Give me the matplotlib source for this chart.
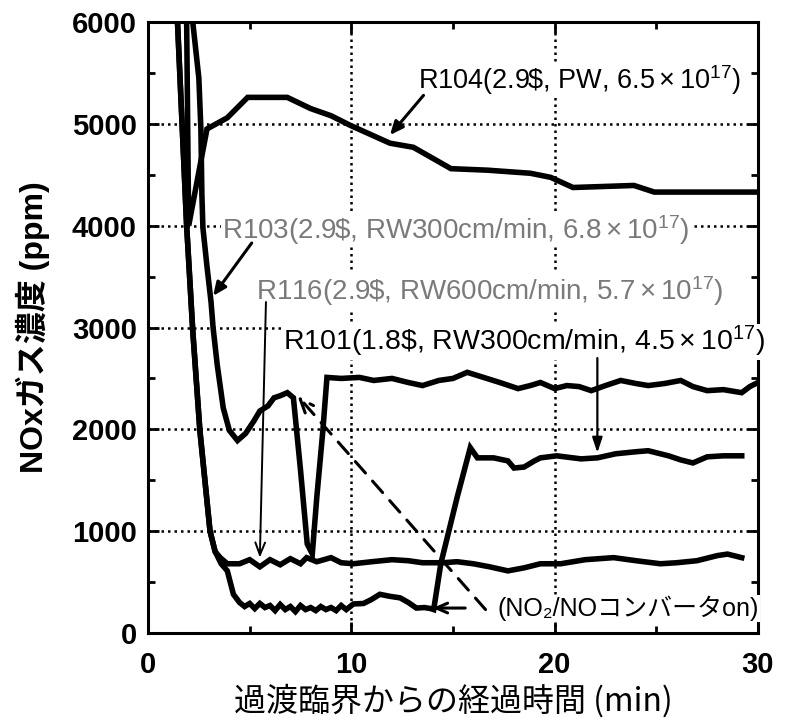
import matplotlib
matplotlib.use("Agg")
from matplotlib import pyplot as plt
from matplotlib.ticker import MultipleLocator

plt.rcParams['font.family'] = ['Liberation Sans', 'Noto Sans CJK JP', 'DejaVu Sans']
plt.rcParams['mathtext.fontset'] = 'custom'
plt.rcParams['mathtext.rm'] = 'Liberation Sans'
plt.rcParams['mathtext.it'] = 'Liberation Sans:italic'
plt.rcParams['mathtext.bf'] = 'Liberation Sans:bold'

# R104 (2.9$, PW)
r104_t = [1.9, 1.95, 2.0, 2.9, 3.9, 4.9, 6.85, 8.0, 9.0, 9.95, 11.9, 13.05,
          14.9, 16.7, 18.8, 19.8, 20.9, 23.9, 24.9, 30.0]
r104_v = [6000, 5000, 4000, 4950, 5060, 5260, 5260, 5150, 5080, 4985, 4810, 4770,
          4560, 4545, 4515, 4475, 4375, 4395, 4330, 4330]

# R103 (2.9$, RW300cm/min)
r103_t = [2.2, 2.5, 2.6, 2.65, 2.7, 2.9, 3.1, 3.2, 3.4, 3.7, 4.0, 4.4, 4.8, 5.2,
          5.5, 5.9, 6.2, 6.5, 6.85, 7.15, 7.5, 7.83, 8.08, 8.3, 8.6, 8.8, 9.5,
          10.4, 11.1, 12.0, 12.8, 13.5, 14.3, 15.0, 15.7, 16.5, 17.3, 18.2, 18.8,
          19.3, 20.0, 20.6, 21.2, 21.8, 22.5, 23.25, 24.0, 24.6, 25.4, 26.2, 26.8,
          27.5, 28.3, 29.2, 29.6, 29.9]
r103_v = [6000, 5450, 4950, 4300, 3980, 3600, 3250, 3000, 2640, 2210, 1990, 1890,
          1960, 2080, 2180, 2230, 2310, 2330, 2360, 2310, 1600, 875, 777, 1330,
          1990, 2510, 2500, 2510, 2480, 2500, 2460, 2430, 2480, 2500, 2560, 2510,
          2460, 2400, 2430, 2460, 2400, 2430, 2420, 2380, 2430, 2480, 2450, 2430,
          2450, 2480, 2420, 2380, 2390, 2360, 2420, 2450]

# R116 (2.9$, RW600cm/min)
r116_t = [1.45, 1.9, 2.2, 2.55, 3.05, 3.3, 3.55, 3.9, 4.5, 5.0, 5.5, 6.0, 6.5,
          7.0, 7.5, 7.8, 8.3, 9.0, 9.5, 10.1, 11.0, 12.0, 12.8, 13.5, 14.5, 15.2,
          16.0, 16.8, 17.7, 18.5, 19.3, 20.3, 21.5, 22.9, 24.0, 25.2, 26.0, 27.0,
          28.0, 28.5, 29.2]
r116_v = [6000, 4000, 2970, 1990, 1000, 800, 740, 680, 680, 720, 650, 720, 670,
          730, 680, 740, 700, 740, 690, 680, 700, 720, 710, 690, 690, 700, 680,
          650, 610, 640, 680, 680, 720, 740, 710, 680, 690, 710, 760, 775, 740]

# R101 (1.8$, RW300cm/min)
r101_t = [1.45, 1.9, 2.2, 2.55, 3.05, 3.3, 3.6, 3.9, 4.2, 4.5, 4.75, 5.0, 5.25,
          5.5, 5.75, 6.0, 6.25, 6.5, 6.75, 7.0, 7.25, 7.5, 7.75, 8.0, 8.25, 8.5,
          8.75, 9.0, 9.25, 9.5, 9.75, 10.1, 10.6, 11.0, 11.4, 11.9, 12.4, 12.8,
          13.2, 13.6, 13.9, 14.05, 14.4, 15.2, 15.85, 16.2, 17.0, 17.7, 18.0,
          18.5, 19.0, 19.3, 20.1, 21.3, 22.1, 23.0, 24.0, 24.6, 25.6, 26.2, 26.8,
          27.5, 28.3, 29.2]
r101_v = [6000, 4000, 2970, 1990, 1000, 800, 680, 610, 380, 300, 260, 290, 240,
          290, 250, 270, 220, 280, 230, 260, 210, 270, 230, 250, 220, 260, 230,
          250, 220, 270, 230, 285, 290, 330, 380, 360, 345, 300, 245, 250, 240,
          230, 680, 1330, 1820, 1720, 1720, 1690, 1620, 1630, 1690, 1720, 1740,
          1710, 1720, 1760, 1780, 1790, 1740, 1700, 1670, 1730, 1740, 1740]

fig = plt.figure(figsize=(7.89, 7.27), dpi=100)
ax = fig.add_axes([0.1876, 0.1293, 0.7731, 0.8404])

lw = 4.0
for t, v in [(r104_t, r104_v), (r103_t, r103_v), (r116_t, r116_v), (r101_t, r101_v)]:
    ax.plot(t, v, color='black', lw=lw, solid_joinstyle='miter', zorder=4)

ax.set_xlim(0, 30)
ax.set_ylim(0, 6000)
ax.xaxis.set_major_locator(MultipleLocator(10))
ax.xaxis.set_minor_locator(MultipleLocator(5))
ax.yaxis.set_major_locator(MultipleLocator(1000))
ax.yaxis.set_minor_locator(MultipleLocator(500))
ax.tick_params(which='both', direction='in', top=True, right=True, width=2)
ax.tick_params(which='major', length=8, labelsize=21, pad=8)
ax.tick_params(axis='x', which='major', pad=13)
ax.tick_params(which='minor', length=5)
for lab in ax.get_xticklabels() + ax.get_yticklabels():
    lab.set_fontweight('bold')
for s in ax.spines.values():
    s.set_linewidth(2.2)

for gx in [10, 20]:
    ax.axvline(gx, color='black', lw=1.8, ls=(0, (1, 1.6)), zorder=1)
for gy in [1000, 2000, 3000, 4000, 5000]:
    ax.axhline(gy, color='black', lw=1.8, ls=(0, (1, 1.6)), zorder=1)

ax.set_xlabel('過渡臨界からの経過時間 (min)', fontsize=23,
              family=['Noto Sans CJK JP'], labelpad=4)
ax.set_ylabel('NOxガス濃度 (ppm)', fontsize=23, fontweight='bold',
              family=['Liberation Sans', 'Noto Sans CJK JP'], labelpad=16)

box = dict(fc='white', ec='none', pad=0.5)
ax.text(13.3, 5430, r'R104(2.9\$, PW, $6.5\times10^{17}$)', fontsize=19.5,
        ha='left', va='center', bbox=box, zorder=3)
ax.text(3.65, 3960, r'R103(2.9\$, RW300cm/min, $6.8\times10^{17}$)', fontsize=20,
        color='#7a7a7a', ha='left', va='center', bbox=box, zorder=3)
ax.text(5.3, 3360, r'R116(2.9\$, RW600cm/min, $5.7\times10^{17}$)', fontsize=20,
        color='#7a7a7a', ha='left', va='center', bbox=box, zorder=3)
ax.text(6.65, 2860, r'R101(1.8\$, RW300cm/min, $4.5\times10^{17}$)', fontsize=20.5,
        ha='left', va='center', bbox=box, zorder=3, clip_on=False)
ax.text(17.2, 245, '(NO₂/NOコンバータon)', fontsize=18,
        ha='left', va='center', bbox=box, zorder=3,
        family=['Liberation Sans', 'Noto Sans CJK JP', 'DejaVu Sans'])

solid = dict(arrowstyle='-|>,head_length=0.8,head_width=0.35', color='black',
             lw=2.2, shrinkA=0, shrinkB=0)
thin = dict(arrowstyle='->,head_length=0.9,head_width=0.35', color='black',
            lw=1.4, shrinkA=0, shrinkB=0)
ax.annotate('', xy=(11.9, 4890), xytext=(13.55, 5280), arrowprops=solid, zorder=5)
ax.annotate('', xy=(3.2, 3310), xytext=(5.1, 3830), arrowprops=solid, zorder=5)
ax.annotate('', xy=(5.5, 740), xytext=(5.8, 3250), arrowprops=thin, zorder=5)
ax.annotate('', xy=(22.1, 1770), xytext=(22.1, 2700),
            arrowprops=dict(arrowstyle='-|>,head_length=0.9,head_width=0.3',
                            color='black', lw=1.6, shrinkA=0, shrinkB=0), zorder=5)
ax.annotate('', xy=(7.35, 2330), xytext=(16.6, 230),
            arrowprops=dict(arrowstyle='->,head_length=1.0,head_width=0.4',
                            color='black', lw=2.2, ls=(0, (5, 3.5)),
                            shrinkA=0, shrinkB=0), zorder=5)
ax.annotate('', xy=(14.0, 245), xytext=(15.6, 245),
            arrowprops=dict(arrowstyle='->,head_length=0.8,head_width=0.35',
                            color='black', lw=2.2, shrinkA=0, shrinkB=0), zorder=5)

fig.savefig('out.png', dpi=100)
